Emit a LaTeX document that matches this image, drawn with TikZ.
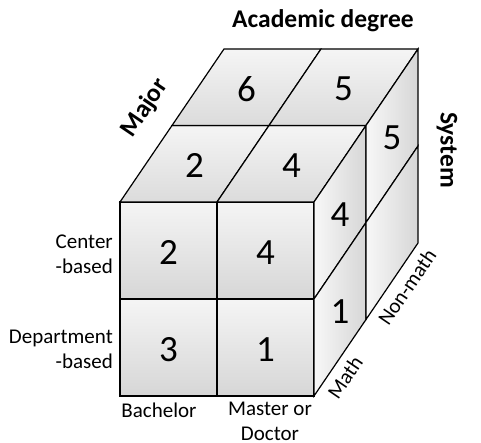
\documentclass[tikz,border=0pt]{standalone}
\usepackage{fontspec}
\setmainfont{Carlito}
\usepackage{tikz}
\usetikzlibrary{positioning}
\tikzset{frontcell/.style={draw, line width=1.2pt, top color=gray!8, bottom color=gray!32}}
\tikzset{topcell/.style={draw, line width=1.2pt, top color=gray!8, bottom color=gray!28}}
\tikzset{sidecell/.style={draw, line width=1.2pt, left color=gray!6, right color=gray!32}}
\tikzset{num/.style={font=\fontsize{37}{37}\selectfont, yshift=-2pt}}
\tikzset{dimlabel/.style={font=\bfseries\fontsize{25.5}{28}\selectfont}}
\tikzset{catlabel/.style={font=\fontsize{21}{25}\selectfont, inner sep=0pt}}

\begin{document}
\begin{tikzpicture}[x=1pt, y=1pt]
            \useasboundingbox (-120,-47) rectangle (361,396);
            \def\a{97}      % cell edge
            \def\dx{52}     % depth step
            \def\dy{76.5}

            % front face
            \foreach \i/\j/\n in {0/1/2, 1/1/4, 0/0/3, 1/0/1}{
                \shade[frontcell] (\i*\a, \j*\a) rectangle ++(\a,\a);
                \node[num] (f\i\j) at (\i*\a+\a/2, \j*\a+\a/2) {\n};
            }

            % top face
            \foreach \i/\k/\n in {0/0/2, 1/0/4, 0/1/6, 1/1/5}{
                \shade[topcell] (\i*\a+\k*\dx, 2*\a+\k*\dy) -- ++(\a,0) -- ++(\dx,\dy) -- ++(-\a,0) -- cycle;
                \node[num] (t\i\k) at (\i*\a+\k*\dx+\a/2+\dx/2, 2*\a+\k*\dy+\dy/2) {\n};
            }

            % right face
            \foreach \k/\j/\n in {0/1/4, 0/0/1, 1/1/5, 1/0/{}}{
                \shade[sidecell] (2*\a+\k*\dx, \j*\a+\k*\dy) -- ++(\dx,\dy) -- ++(0,\a) -- ++(-\dx,-\dy) -- cycle;
                \node[num] (s\k\j) at (2*\a+\k*\dx+\dx/2, \j*\a+\k*\dy+\dy/2+\a/2) {\n};
            }

            % dimension names
            \node[dimlabel] (deg) at (203,375) {Academic degree};
            \node[dimlabel, rotate=55.8] (maj) at (25,288) {Major};
            \node[dimlabel, rotate=-90] (sys) at (327,246) {System};

            % categories
            \node[catlabel, anchor=east, align=right] (cen) at (-7,141.5) {Center\\-based};
            \node[catlabel, anchor=east, align=right] (dep) at (-7,47) {Department\\-based};
            \node[catlabel] (bac) at (39,-14) {Bachelor};
            \node[catlabel, align=center] (mas) at (150,-25.5) {Master or\\Doctor};
            \node[catlabel, rotate=55.8] (mat) at (225,19) {Math};
            \node[catlabel, rotate=55.8] (non) at (287,109) {Non-math};
        \end{tikzpicture}
\end{document}
